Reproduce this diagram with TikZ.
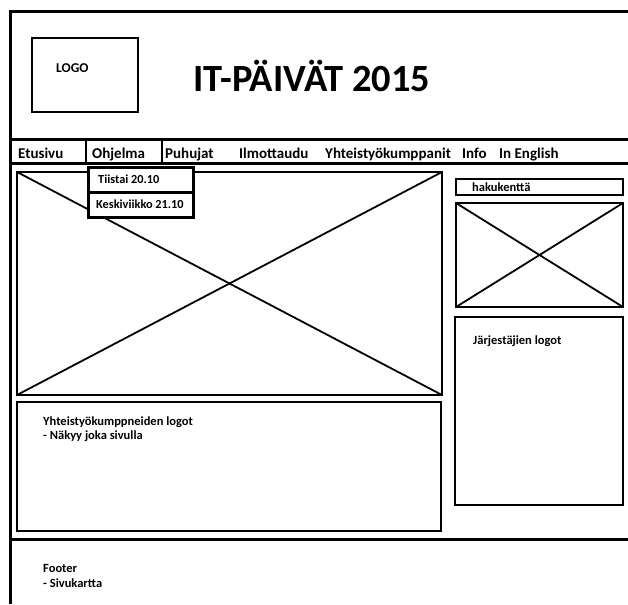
\documentclass[tikz,border=0pt]{standalone}
\usepackage{fontspec}
\setmainfont{Carlito}
\begin{document}
\begin{tikzpicture}[x=1pt,y=-1pt,
  frame/.style={line width=3pt},
  box/.style={line width=2.2pt},
  cross/.style={line width=1.8pt},
  navtxt/.style={anchor=base west,inner sep=0pt,font=\fontsize{15}{17}\selectfont\bfseries},
  lbl/.style={anchor=base west,inner sep=0pt,font=\fontsize{12.5}{14}\selectfont\bfseries}]
\useasboundingbox (0,0) rectangle (628,604);
% outer frame
\draw[frame] (10,604) -- (10,12) -- (628,12);
\draw[frame] (10,140) -- (628,140);
\draw[frame] (10,163) -- (628,163);
\draw[frame] (10,539) -- (628,539);
\draw[box] (86,140) -- (86,163);
\draw[box] (162,140) -- (162,163);
% logo and title
\draw[box] (32,38) rectangle (138,112);
\node[lbl,font=\fontsize{13.5}{15}\selectfont\bfseries] (logo) at (56,73) {LOGO};
\node[anchor=base,inner sep=0pt,font=\fontsize{38.5}{42}\selectfont\bfseries] (title) at (312,92) {IT-PÄIVÄT 2015};
% nav
\node[navtxt] (n1) at (18,158) {Etusivu};
\node[navtxt] (n2) at (92,158) {Ohjelma};
\node[navtxt] (n3) at (165,158) {Puhujat};
\node[navtxt] (n4) at (239,158) {Ilmottaudu};
\node[navtxt] (n5) at (325,158) {Yhteistyökumppanit};
\node[navtxt] (n6) at (462,158) {Info};
\node[navtxt] (n7) at (499,158) {In English};
% big image box
\draw[box] (17,172) rectangle (442,395);
\draw[cross] (17,172) -- (442,395);
\draw[cross] (17,395) -- (442,172);
% dropdown
\draw[frame,fill=white] (88,167) rectangle (193,217);
\draw[frame] (88,192) -- (193,192);
\node[lbl,font=\fontsize{12.3}{14}\selectfont\bfseries] (d1) at (98,183) {Tiistai 20.10};
\node[lbl,font=\fontsize{12.3}{14}\selectfont\bfseries] (d2) at (96,208) {Keskiviikko 21.10};
% partners box
\draw[box] (17,402) rectangle (441,531);
\node[lbl] (p1) at (43,425) {Yhteistyökumppneiden logot};
\node[lbl] (p2) at (43,439) {- Näkyy joka sivulla};
% right column
\draw[box] (456,179) rectangle (623,195);
\node[lbl] (hk) at (472,191) {hakukenttä};
\draw[box] (456,203) rectangle (623,307);
\draw[cross] (456,203) -- (623,307);
\draw[cross] (456,307) -- (623,203);
\draw[box] (455,317) rectangle (623,505);
\node[lbl] (jl) at (473,344) {Järjestäjien logot};
% footer
\node[lbl] (f1) at (43,572) {Footer};
\node[lbl] (f2) at (43,587) {- Sivukartta};
\end{tikzpicture}
\end{document}
